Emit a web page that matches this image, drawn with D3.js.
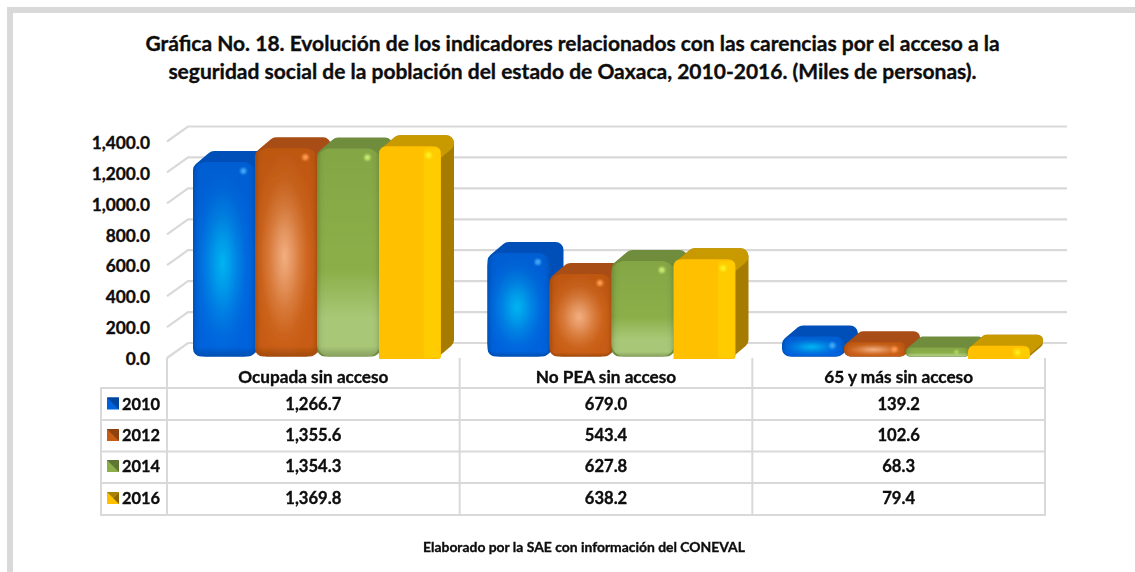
<!DOCTYPE html>
<html><head><meta charset="utf-8">
<script src="https://cdn.jsdelivr.net/npm/d3@7"></script>
<style>html,body{margin:0;padding:0;background:#fff}svg{display:block}text{font-family:Lato,Carlito,sans-serif;font-weight:700;fill:#0d0d0d;stroke:#0d0d0d;stroke-width:.35px}</style>
</head><body><svg id="c" width="1135" height="572"></svg>
<script>
const titleLines = ["Gráfica No. 18. Evolución de los indicadores relacionados con las carencias por el acceso a la","seguridad social de la población del estado de Oaxaca, 2010-2016. (Miles de personas)."];
const footer = "Elaborado por la SAE con información del CONEVAL";
const categories = ["Ocupada sin acceso","No PEA sin acceso","65 y más sin acceso"];
const seriesNames = ["2010","2012","2014","2016"];
const v2010 = [1266.7,679.0,139.2];
const v2012 = [1355.6,543.4,102.6];
const v2014 = [1354.3,627.8,68.3];
const v2016 = [1369.8,638.2,79.4];
const seriesValues = [v2010,v2012,v2014,v2016];
const yTicks = [0,200,400,600,800,1000,1200,1400];
const palette = [
 {front:"#0062dc",hi:"#00b4f0",top:"#0050b8",side:"#0050b8",spec:"#3fa8f5"},
 {front:"#c85c12",hi:"#f2ae80",top:"#a84e12",side:"#a84e12",spec:"#ff9a50"},
 {front:"#8bae48",hi:"#a9c877",top:"#6f8c3c",side:"#6f8c3c",spec:"#c8ea70"},
 {front:"#ffc000",hi:"#ffc800",top:"#c89a00",side:"#a67c00",spec:"#fff020"}];

const svg = d3.select("#c");
const fmt = d3.format(",.1f");
const grid = "#d9d9d9";

svg.append("rect").attr("x",7).attr("y",7).attr("width",1128).attr("height",6).attr("fill","#d9d9d9");
svg.append("rect").attr("x",7).attr("y",7).attr("width",6).attr("height",565).attr("fill","#d9d9d9");

svg.selectAll("text.title").data(titleLines).join("text").attr("class","title")
 .attr("x",572.5).attr("y",(d,i)=>[51,79][i]).attr("text-anchor","middle").attr("font-size",21).text(d=>d);

// scales
const x0 = d3.scaleBand().domain(categories).range([167,1045]);
const xBar = d3.scaleBand().domain(categories).range([169.75,1053.25]);
const x1 = d3.scaleBand().domain(seriesNames).range([0,xBar.bandwidth()]).paddingOuter(0.375).paddingInner(0);
const y = d3.scaleLinear().domain([0,1400]).range([358,141.5]);
const wallDx = 21, wallDy = -15;

const g = svg.append("g");
yTicks.forEach(t=>{
  g.append("path").attr("d",`M${167},${y(t)}L${167+wallDx},${y(t)+wallDy}H1067`).attr("fill","none").attr("stroke",grid).attr("stroke-width",2.2);
});
const yAxis = d3.axisLeft(y).tickValues(yTicks).tickFormat(fmt).tickSize(0).tickPadding(0);
const ya = svg.append("g").attr("transform","translate(150,1)").call(yAxis);
ya.select(".domain").remove();
ya.selectAll("text").attr("dy","0.33em").style("font-family","Lato").style("font-size","17.3px").style("font-weight",700);

const defs = svg.append("defs");
palette.forEach((p,i)=>{
  const r = defs.append("radialGradient").attr("id","hi"+i).attr("cx","0.47").attr("cy","0.52").attr("r","0.5");
  const mix = d3.interpolateRgb(p.hi,p.front);
  [[0,0],[.25,.3],[.5,.65],[.75,.9],[1,1]].forEach(q=>r.append("stop").attr("offset",q[0]).attr("stop-color",mix(q[1])));
  const l = defs.append("linearGradient").attr("id","lo"+i).attr("x1",0).attr("x2",0).attr("y1",0).attr("y2",1);
  l.append("stop").attr("offset","0.58").attr("stop-color",p.front);
  l.append("stop").attr("offset","0.82").attr("stop-color",p.hi);
});
const edge = defs.append("linearGradient").attr("id","edge").attr("x1",0).attr("x2",1).attr("y1",0).attr("y2",0);
[[0,.16],[.07,.03],[.14,0],[.86,0],[.93,.03],[1,.16]].forEach(s=>edge.append("stop").attr("offset",s[0]).attr("stop-color","#000").attr("stop-opacity",s[1]));
const edgeV = defs.append("linearGradient").attr("id","edgeV").attr("x1",0).attr("x2",0).attr("y1",0).attr("y2",1);
[[0,.05],[.5,0],[.95,0],[1,.2]].forEach(s=>edgeV.append("stop").attr("offset",s[0]).attr("stop-color","#000").attr("stop-opacity",s[1]));
defs.append("filter").attr("id","soft").attr("x","-100%").attr("y","-100%").attr("width","300%").attr("height","300%")
  .append("feGaussianBlur").attr("stdDeviation",1.1);
defs.append("filter").attr("id","soft2").attr("x","-5%").attr("y","-5%").attr("width","110%").attr("height","110%")
  .append("feGaussianBlur").attr("stdDeviation",.45);

const depth = {dx:13,dy:-11};
const bars = svg.append("g").attr("filter","url(#soft2)");
categories.forEach((c,ci)=>{
  seriesNames.forEach((s,si)=>{
    const v = seriesValues[si][ci], p = palette[si];
    const bw = x1.bandwidth()+(si<3?1:0);
    const bx = xBar(c)+x1(s);
    const yt = y(v), yb = si===3 ? 359 : 356.5;
    const h = yb-yt;
    const rad = Math.min(13,h/2);
    const R = Math.min(8,h/2-1);
    const gb = bars.append("g");
    const x1a=bx+R, x2a=bx+bw-R, y1a=yt+R, y2a=yb-R;
    const dx=depth.dx, dy=depth.dy;
    gb.append("path")
      .attr("d",`M${x1a},${y2a}V${y1a}L${x1a+dx},${y1a+dy}H${x2a+dx}V${y2a+dy}L${x2a},${y2a}Z`)
      .attr("fill",p.side).attr("stroke",p.side).attr("stroke-width",2*R).attr("stroke-linejoin","round");
    if(si===3){
      gb.append("path")
        .attr("d",`M${x1a},${y1a}L${x1a+dx},${y1a+dy}H${x2a+dx}L${x2a},${y1a}Z`)
        .attr("fill",p.top).attr("stroke",p.top).attr("stroke-width",2*R).attr("stroke-linejoin","round");
      const r3=Math.min(8,h/2);
      gb.append("path").attr("d",`M${bx},${yb}V${yt+r3}Q${bx},${yt} ${bx+r3},${yt}H${bx+bw-r3}Q${bx+bw},${yt} ${bx+bw},${yt+r3}V${yb-3}Q${bx+bw},${yb} ${bx+bw-3},${yb}Z`).attr("fill",p.front);
      gb.append("rect").attr("x",bx+bw*.72).attr("y",yt+2).attr("width",bw*.28-1).attr("height",Math.max(h-3,1)).attr("fill","#ffcc00").attr("rx",3);
    } else {
      gb.append("rect").attr("x",bx).attr("y",yt).attr("width",bw).attr("height",h).attr("rx",rad).attr("fill",si===2?`url(#lo${si})`:`url(#hi${si})`);
      gb.append("rect").attr("x",bx).attr("y",yt).attr("width",bw).attr("height",h).attr("rx",rad).attr("fill","url(#edge)");
      gb.append("rect").attr("x",bx).attr("y",yt).attr("width",bw).attr("height",h).attr("rx",rad).attr("fill","url(#edgeV)");
    }
    gb.append("circle").attr("cx",bx+bw*.8).attr("cy",yt+Math.min(9,h/2)).attr("r",Math.min(3,h/5)).attr("fill",p.spec).attr("filter","url(#soft)");
  });
});

// data table
const rowLines = [388,420,451.5,483,515];
const colLines = [...categories.map(c=>x0(c)),x0.range()[1]];
const t = svg.append("g").attr("stroke",grid).attr("stroke-width",2).attr("fill","none");
rowLines.forEach(yy=>t.append("line").attr("x1",100).attr("x2",1045).attr("y1",yy).attr("y2",yy));
t.append("line").attr("x1",101).attr("x2",101).attr("y1",388).attr("y2",516);
colLines.forEach(xx=>t.append("line").attr("x1",xx).attr("x2",xx).attr("y1",358).attr("y2",516));

const rowBase=[409.5,441,472,504];
categories.forEach((c,ci)=>{
  const cx = x0(c)+x0.bandwidth()/2;
  svg.append("text").attr("x",cx).attr("y",383).attr("text-anchor","middle").attr("font-size",17.2).text(c);
  seriesNames.forEach((s,si)=>{
    svg.append("text").attr("x",cx).attr("y",rowBase[si]).attr("text-anchor","middle").attr("font-size",16.6).text(fmt(seriesValues[si][ci]));
  });
});
seriesNames.forEach((s,si)=>{
  const yy=rowBase[si], p=palette[si];
  const sx=107, sy=yy-12, z=12;
  const sw=svg.append("g");
  sw.append("rect").attr("x",sx).attr("y",sy).attr("width",z).attr("height",z).attr("fill",p.front);
  sw.append("path").attr("d",`M${sx+z},${sy}L${sx+z/2},${sy+z/2}L${sx+z},${sy+z}Z`).attr("fill",d3.color(p.side).darker(.5));
  sw.append("path").attr("d",`M${sx},${sy}L${sx+z},${sy}L${sx+z/2},${sy+z/2}Z`).attr("fill",d3.color(p.top).darker(.5));
  svg.append("text").attr("x",122).attr("y",yy).attr("font-size",16.4).text(s);
});

svg.append("text").attr("x",584).attr("y",552).attr("text-anchor","middle").attr("style","font-size:13.9px").text(footer);
</script></body></html>
